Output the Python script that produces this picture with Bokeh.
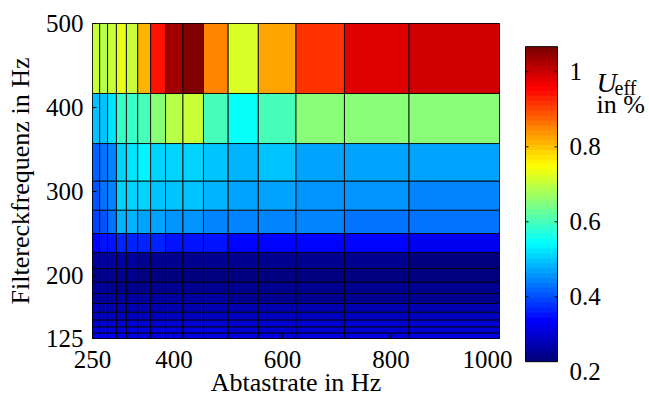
from bokeh.plotting import figure
from bokeh.layouts import row
from bokeh.models import ColumnDataSource, FixedTicker
from bokeh.transform import linear_cmap
from bokeh.core.properties import value
from bokeh.embed import file_html
from bokeh.resources import INLINE

# ---- data -------------------------------------------------------------
# cell edges (pcolor vertices)
abtastrate_edges = [250.0, 263.2, 277.8, 294.1, 312.5, 333.3, 357.1, 384.6,
                    416.7, 454.5, 500.0, 555.6, 625.0, 714.3, 833.3, 1000.0]
filter_edges = [125.0, 131.6, 138.9, 147.1, 156.3, 166.7, 178.6, 192.3,
                208.3, 227.3, 250.0, 277.8, 312.5, 357.1, 416.7, 500.0]

# U_eff in % per cell row (named by lower filter edge), columns follow abtastrate_edges
u_125 = [0.322, 0.321, 0.320, 0.319, 0.318, 0.318, 0.317, 0.317, 0.316, 0.316, 0.315, 0.315, 0.315, 0.314, 0.314]
u_132 = [0.312, 0.311, 0.310, 0.309, 0.308, 0.308, 0.307, 0.307, 0.306, 0.306, 0.305, 0.305, 0.305, 0.304, 0.304]
u_139 = [0.302, 0.301, 0.300, 0.299, 0.298, 0.298, 0.297, 0.297, 0.296, 0.296, 0.295, 0.295, 0.295, 0.294, 0.294]
u_147 = [0.292, 0.291, 0.290, 0.289, 0.288, 0.287, 0.286, 0.286, 0.285, 0.285, 0.284, 0.284, 0.283, 0.283, 0.283]
u_156 = [0.280, 0.279, 0.277, 0.276, 0.275, 0.274, 0.273, 0.272, 0.271, 0.270, 0.270, 0.269, 0.269, 0.268, 0.268]
u_167 = [0.265, 0.263, 0.262, 0.261, 0.259, 0.258, 0.257, 0.256, 0.255, 0.254, 0.253, 0.253, 0.252, 0.252, 0.251]
u_179 = [0.255, 0.254, 0.252, 0.250, 0.249, 0.248, 0.247, 0.246, 0.245, 0.244, 0.243, 0.242, 0.242, 0.241, 0.241]
u_192 = [0.250, 0.248, 0.246, 0.244, 0.242, 0.240, 0.239, 0.238, 0.237, 0.236, 0.235, 0.234, 0.233, 0.232, 0.232]
u_208 = [0.262, 0.260, 0.258, 0.256, 0.254, 0.252, 0.250, 0.249, 0.248, 0.246, 0.244, 0.243, 0.242, 0.241, 0.240]
u_227 = [0.345, 0.350, 0.358, 0.370, 0.370, 0.365, 0.365, 0.358, 0.358, 0.350, 0.345, 0.345, 0.340, 0.332, 0.325]
u_250 = [0.395, 0.410, 0.430, 0.477, 0.477, 0.470, 0.464, 0.457, 0.457, 0.450, 0.440, 0.440, 0.437, 0.430, 0.424]
u_278 = [0.410, 0.424, 0.440, 0.504, 0.510, 0.504, 0.500, 0.490, 0.490, 0.479, 0.473, 0.470, 0.460, 0.454, 0.448]
u_313 = [0.412, 0.424, 0.450, 0.510, 0.525, 0.535, 0.510, 0.504, 0.504, 0.490, 0.483, 0.490, 0.473, 0.466, 0.464]
u_357 = [0.490, 0.500, 0.525, 0.594, 0.594, 0.607, 0.660, 0.687, 0.700, 0.601, 0.555, 0.607, 0.647, 0.654, 0.654]
u_417 = [0.706, 0.687, 0.700, 0.727, 0.706, 0.805, 0.940, 1.040, 1.067, 0.844, 0.714, 0.830, 0.910, 0.980, 0.990]

rows = [u_125, u_132, u_139, u_147, u_156, u_167, u_179, u_192,
        u_208, u_227, u_250, u_278, u_313, u_357, u_417]

x_ticks = [250, 400, 600, 800, 1000]
y_ticks = [125, 200, 300, 400, 500]
cbar_ticks = [0.2, 0.4, 0.6, 0.8, 1.0]
cbar_labels = ["0.2", "0.4", "0.6", "0.8", "1"]
c_low, c_high = 0.227, 1.067

# ---- jet palette ------------------------------------------------------
def jet(n):
    out = []
    for i in range(n):
        t = i / (n - 1)
        r = min(max(1.5 - abs(4 * t - 3), 0), 1)
        g = min(max(1.5 - abs(4 * t - 2), 0), 1)
        b = min(max(1.5 - abs(4 * t - 1), 0), 1)
        out.append("#%02x%02x%02x" % (round(r * 255), round(g * 255), round(b * 255)))
    return out

palette = jet(64)
cmap = linear_cmap("u", palette, c_low, c_high)

left, right, bottom, top, uval = [], [], [], [], []
for j, r in enumerate(rows):
    for i, v in enumerate(r):
        left.append(abtastrate_edges[i]); right.append(abtastrate_edges[i + 1])
        bottom.append(filter_edges[j]); top.append(filter_edges[j + 1])
        uval.append(v)
src = ColumnDataSource(dict(left=left, right=right, bottom=bottom, top=top, u=uval))

FONT = "'Liberation Serif', 'Times New Roman', serif"

p = figure(frame_width=407, frame_height=315, min_border_left=92, min_border_right=13,
           min_border_top=23, min_border_bottom=60,
           x_range=(250, 1000), y_range=(125, 500),
           output_backend="svg", toolbar_location=None)
p.quad(left="left", right="right", bottom="bottom", top="top", source=src,
       fill_color=cmap, line_color="black", line_width=0.85)
p.grid.visible = False
p.outline_line_color = "black"
p.xaxis.ticker = FixedTicker(ticks=x_ticks)
p.yaxis.ticker = FixedTicker(ticks=y_ticks)
p.xaxis.axis_label = "Abtastrate in Hz"
p.yaxis.axis_label = "Filtereckfrequenz in Hz"
for ax in (p.xaxis[0], p.yaxis[0]):
    ax.axis_line_color = None
    ax.major_tick_in = 4
    ax.major_tick_out = 0
    ax.minor_tick_line_color = None
    ax.major_label_text_font = FONT
    ax.major_label_text_font_size = "25px"
    ax.major_label_text_color = "black"
    ax.axis_label_text_font = FONT
    ax.axis_label_text_font_size = "26px"
    ax.axis_label_text_font_style = "normal"
    ax.axis_label_text_color = "black"
p.xaxis.major_label_standoff = 12
p.xaxis.axis_label_standoff = -3
p.yaxis.major_label_standoff = 9
p.yaxis.axis_label_standoff = 8

# ---- colorbar figure ----------------------------------------------------
y_top = 1 + 48.3 / 375
y_bot = 1 - (398 - 48.3) / 375
p2 = figure(frame_width=137, frame_height=398, min_border=0,
            x_range=(0, 137), y_range=(y_bot, y_top),
            output_backend="svg", toolbar_location=None)
p2.axis.visible = False
p2.grid.visible = False
p2.outline_line_color = None

n = len(palette)
step = (c_high - c_low) / n
cb = ColumnDataSource(dict(bottom=[c_low + k * step for k in range(n)],
                           top=[min(c_low + (k + 1.4) * step, c_high) for k in range(n)],
                           u=[c_low + (k + 0.5) * step for k in range(n)]))
p2.quad(left=13, right=45, bottom="bottom", top="top", source=cb,
        fill_color=cmap, line_color=None)
p2.quad(left=13, right=45, bottom=c_low, top=c_high, fill_color=None,
        line_color="black", line_width=1)
inner = [t for t in cbar_ticks if t > c_low]
p2.segment(x0=[13] * len(inner), x1=[16] * len(inner), y0=inner, y1=inner, line_color="black")
p2.segment(x0=[42] * len(inner), x1=[45] * len(inner), y0=inner, y1=inner, line_color="black")
p2.text(x=[57] * len(cbar_ticks), y=cbar_ticks, text=cbar_labels,
        text_baseline="middle", text_align="left",
        text_font=value(FONT), text_font_size="25px", text_color="black")
p2.text(x=[84], y=[1 - (59 - 48.3) / 375], text=["U"], text_baseline="alphabetic",
        text_font=value(FONT), text_font_size="28px", text_font_style="italic", text_color="black")
p2.text(x=[102], y=[1 - (64 - 48.3) / 375], text=["eff"], text_baseline="alphabetic",
        text_font=value(FONT), text_font_size="20px", text_color="black")
p2.text(x=[84], y=[1 - (81 - 48.3) / 375], text=["in %"], text_baseline="alphabetic",
        text_font=value(FONT), text_font_size="26px", text_color="black")

layout = row(p, p2)
open("out.html", "w").write(file_html(layout, INLINE))
